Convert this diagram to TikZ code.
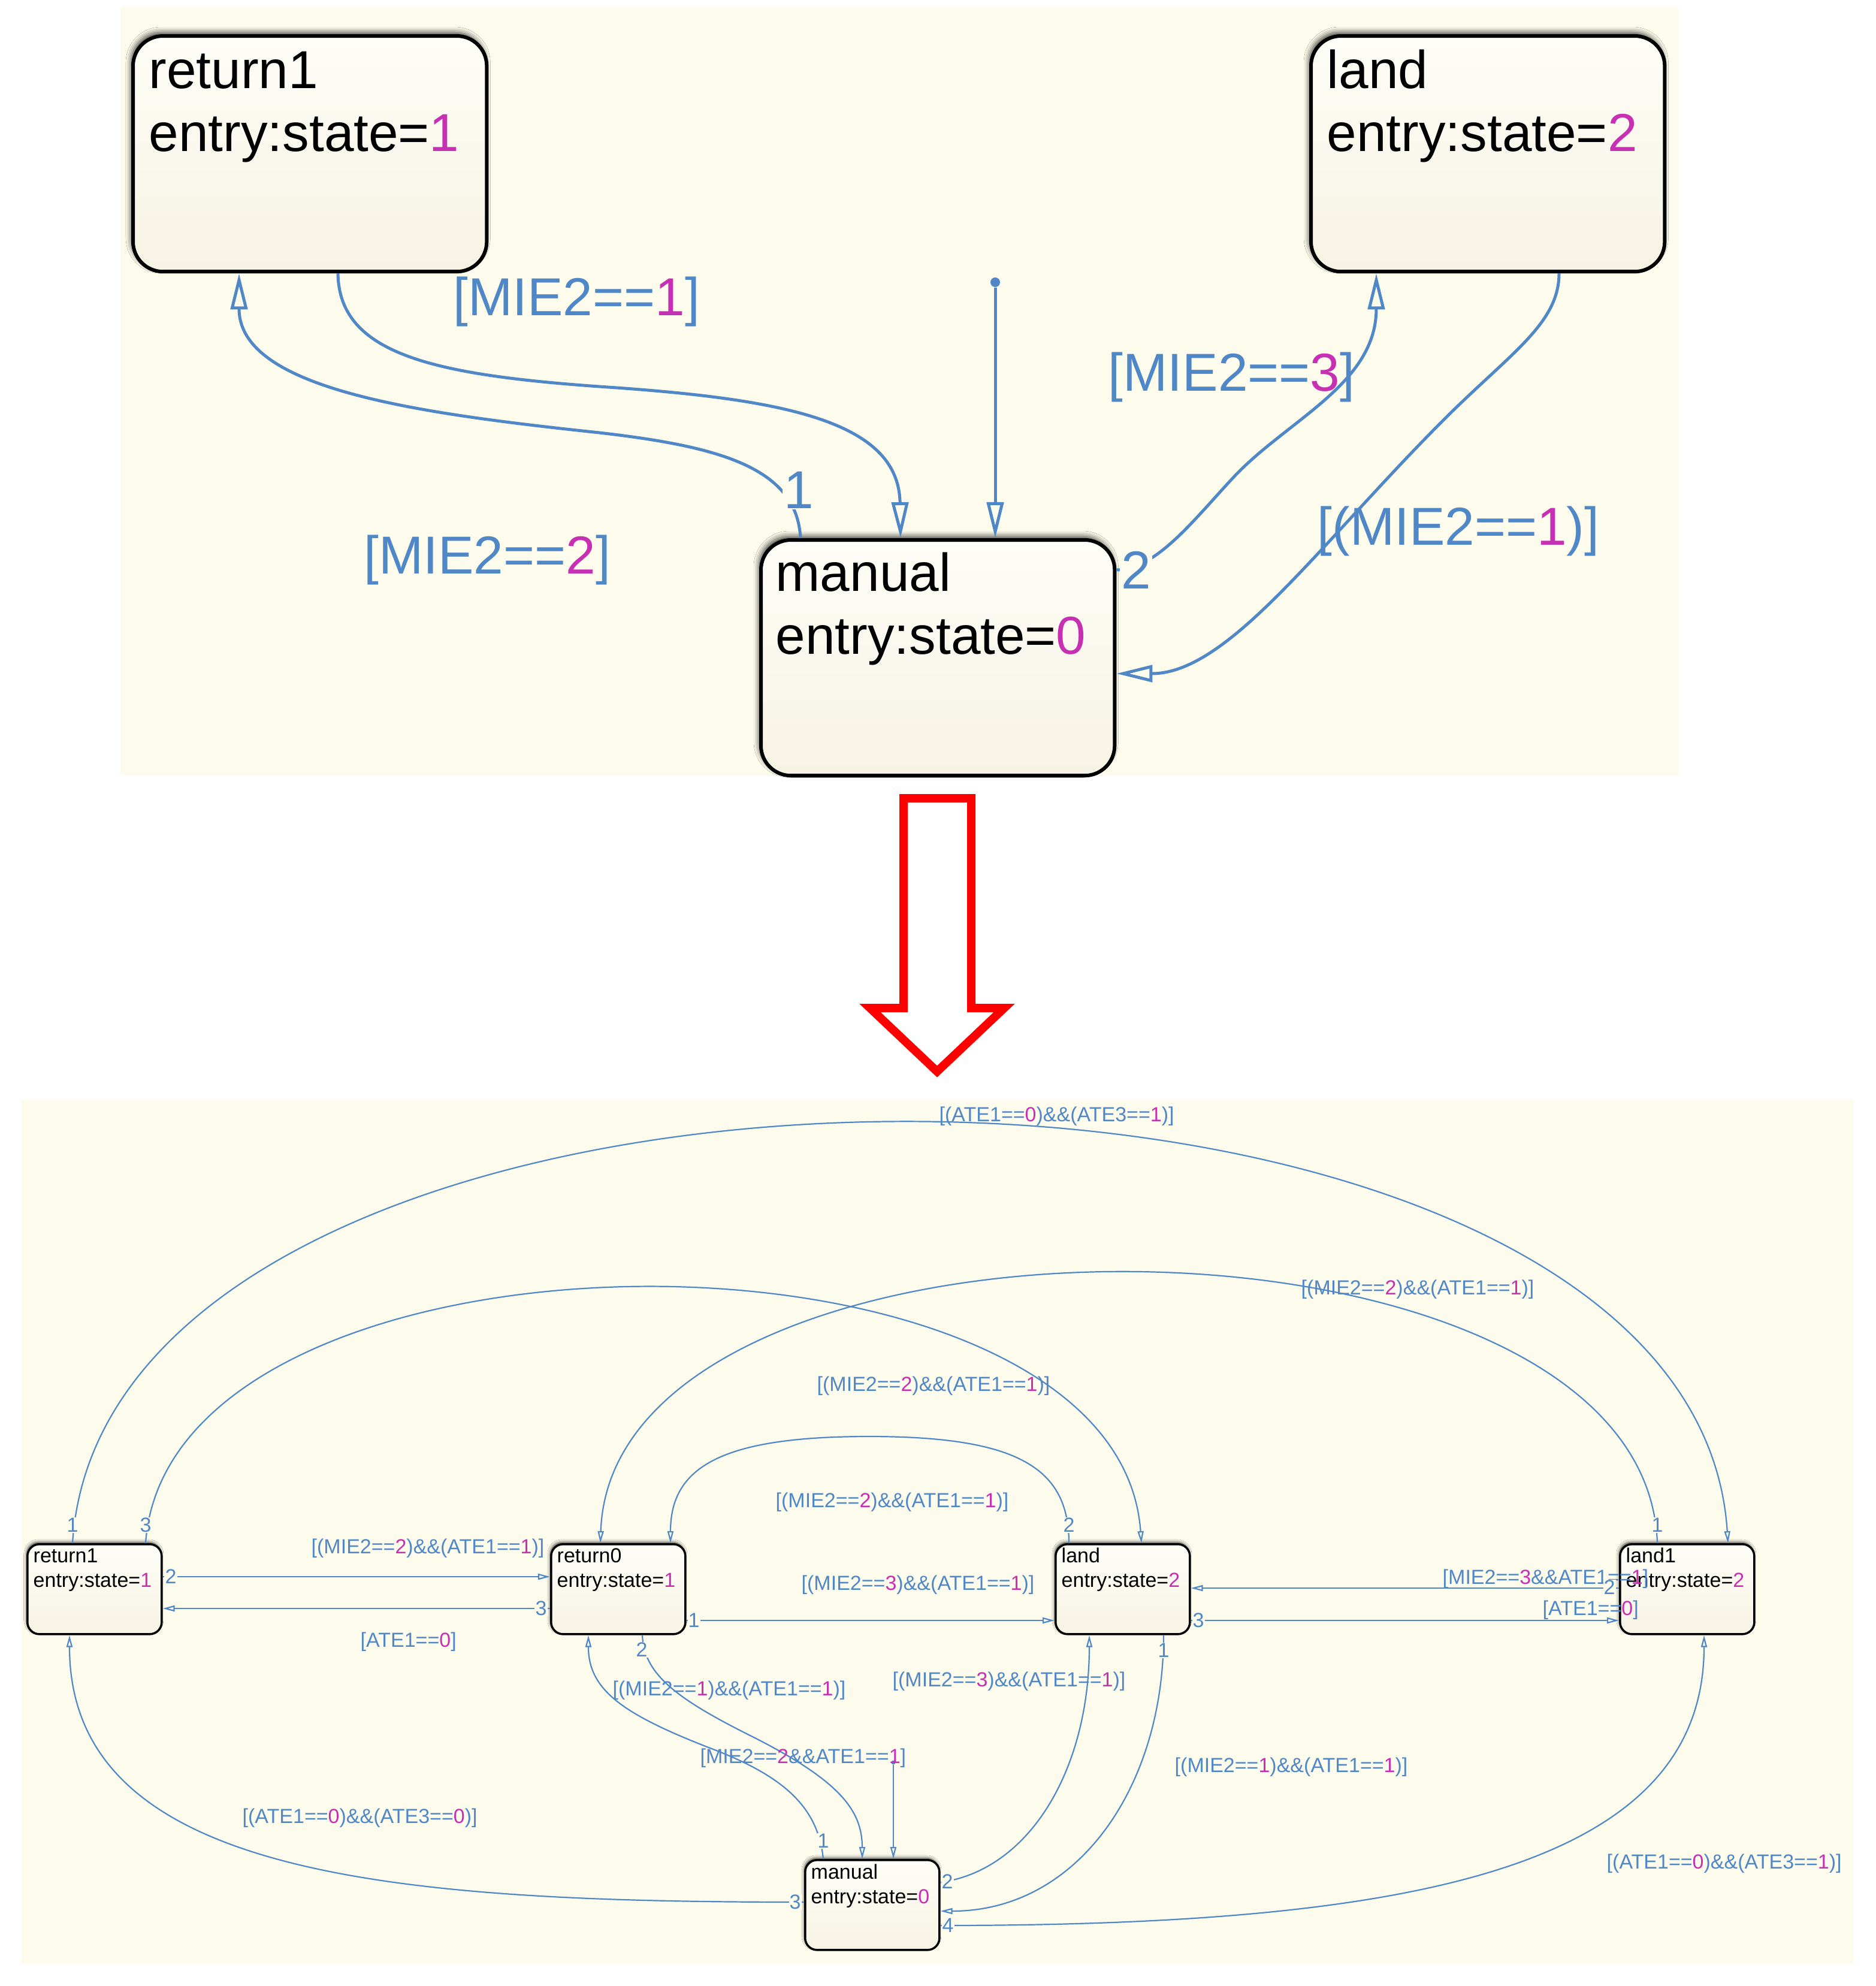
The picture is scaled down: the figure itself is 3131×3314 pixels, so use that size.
\documentclass[tikz,border=0pt]{standalone}
\usepackage{fontspec}
\setmainfont{Liberation Sans}
\usetikzlibrary{arrows.meta,calc,shadows.blur}
\definecolor{bgc}{RGB}{253,251,235}
\definecolor{boxtop}{RGB}{254,253,247}
\definecolor{boxbot}{RGB}{246,243,228}
\definecolor{lblue}{RGB}{80,135,198}
\definecolor{mag}{RGB}{199,48,179}
\newcommand\mg[1]{\textcolor{mag}{#1}}
\newcommand\tfnt{\fontsize{25.35pt}{29.6pt}\selectfont}
\newcommand\bfnt{\fontsize{9.67pt}{11.4pt}\selectfont}
\tikzset{
 tstate/.style={draw=black, line width=0.06cm, rounded corners=0.5cm, top color=boxtop, bottom color=boxbot,
   minimum width=5.9cm, minimum height=3.93cm, anchor=north west, inner sep=0,
   blur shadow={shadow xshift=-0.3mm, shadow yshift=0.6mm, shadow blur radius=0.9mm, shadow opacity=75}},
 bstate/.style={draw=black, line width=0.035cm, rounded corners=0.2cm, top color=boxtop, bottom color=boxbot,
   minimum width=2.24cm, minimum height=1.5cm, anchor=north west, inner sep=0,
   blur shadow={shadow xshift=-0.15mm, shadow yshift=0.35mm, shadow blur radius=0.45mm, shadow opacity=75}},
 ttext/.style={anchor=base west, align=left, inner sep=0, font=\tfnt},
 btext/.style={anchor=base west, align=left, inner sep=0, font=\bfnt},
 tlab/.style={anchor=base west, inner sep=0, font=\tfnt, text=lblue},
 blab/.style={anchor=base west, inner sep=0, font=\bfnt, text=lblue},
 tnum/.style={inner sep=0.5pt, font=\tfnt, text=lblue, fill=bgc},
 bnum/.style={inner sep=0.3pt, font=\bfnt, text=lblue, fill=bgc},
 tconn/.style={draw=lblue, line width=0.05cm, -{Triangle[open, length=0.6cm, width=0.28cm]}},
 bconn/.style={draw=lblue, line width=0.022cm, -{Triangle[open, length=0.2cm, width=0.1cm]}},
}
\begin{document}
\begin{tikzpicture}[x=0.01cm, y=-0.01cm]
\fill[white] (0,0) rectangle (3131,3314);
\useasboundingbox (0,0) rectangle (3131,3314);
% panels
\fill[bgc] (201,11) rectangle (2801,1294);
\fill[bgc] (36,1835) rectangle (3093,3277);

%================ TOP DIAGRAM =================
\node[tstate] (tr1) at (219,57) {};
\node[tstate] (tland) at (2185,57) {};
\node[tstate] (tman) at (1267,898) {};
% anchor = baseline of the last (second) line
\node[ttext] (tr1t) at ($(tr1.north west)+(29,195)$) {return1\\entry:state=\mg{1}};
\node[ttext] (tlandt) at ($(tland.north west)+(29,195)$) {land\\entry:state=\mg{2}};
\node[ttext] (tmant) at ($(tman.north west)+(27,193)$) {manual\\entry:state=\mg{0}};
\node[circle, fill=lblue, inner sep=0, minimum size=0.16cm] (tdot) at (1661,471) {};

\draw[tconn] ($(tr1.south west)+(345,0)$) .. controls (566,590) and (720,625) .. (1000,645)
   .. controls (1300,665) and (1500,700) .. ($(tman.north west)+(236,0)$);
\draw[tconn] ($(tman.north west)+(69,0)$) .. controls (1330,780) and (1200,745) .. (1000,722)
   .. controls (700,690) and (399,650) .. ($(tr1.south west)+(180,0)$);
\draw[tconn] (tdot) -- ($(tman.north west)+(394,0)$);
\draw[tconn] ($(tman.north east)+(0,53)$) .. controls (1930,950) and (1990,870) .. (2060,795)
   .. controls (2150,700) and (2297,640) .. ($(tland.south west)+(112,0)$);
\draw[tconn] ($(tland.south west)+(417,0)$) .. controls (2602,540) and (2520,590) .. (2410,700)
   .. controls (2200,910) and (2050,1124) .. ($(tman.north east)+(0,226)$);

\node[tlab] (tl1) at (756,526) {[MIE2==\mg{1}]};
\node[tlab] (tl2) at (607,957) {[MIE2==\mg{2}]};
\node[tlab] (tl3) at (1849,652) {[MIE2==\mg{3}]};
\node[tlab] (tl4) at (2198,909) {[(MIE2==\mg{1})]};
\node[tnum] (tn1) at (1333,818) {1};
\node[tnum] (tn2) at (1896,951) {2};

%================ RED ARROW =================
\draw[red, line width=0.14cm, miter limit=6] (1508,1332) -- (1621,1332) -- (1621,1682) -- (1676,1682)
   -- (1564,1788) -- (1452,1682) -- (1508,1682) -- cycle;

%================ BOTTOM DIAGRAM =================
\node[bstate] (br1) at (44,2575) {};
\node[bstate] (br0) at (918,2575) {};
\node[bstate] (bland) at (1760,2575) {};
\node[bstate] (bland1) at (2702,2575) {};
\node[bstate] (bman) at (1342,3102) {};
\node[btext] (br1t) at ($(br1.north west)+(11,73)$) {return1\\entry:state=\mg{1}};
\node[btext] (br0t) at ($(br0.north west)+(11,73)$) {return0\\entry:state=\mg{1}};
\node[btext] (blandt) at ($(bland.north west)+(11,73)$) {land\\entry:state=\mg{2}};
\node[btext] (bland1t) at ($(bland1.north west)+(11,73)$) {land1\\entry:state=\mg{2}};
\node[btext] (bmant) at ($(bman.north west)+(11,74)$) {manual\\entry:state=\mg{0}};
\node[circle, fill=lblue, inner sep=0, minimum size=0.07cm] (bdot) at (1491,2941) {};

% arcs over the top
\draw[bconn] ($(br1.north west)+(77,0)$) .. controls (181,1640) and (2824,1640) .. ($(bland1.north west)+(182,0)$);
\draw[bconn] ($(br1.north west)+(199,0)$) .. controls (283,2007) and (1865,2007) .. ($(bland.north west)+(145,0)$);
\draw[bconn] ($(bland1.north west)+(64,0)$) .. controls (2746,1974) and (1022,1974) .. ($(br0.north west)+(84,0)$);
\draw[bconn] ($(bland.north west)+(24,0)$) .. controls (1784,2450) and (1700,2397) .. (1450,2397)
   .. controls (1200,2397) and (1119,2450) .. ($(br0.north west)+(201,0)$);
% horizontal
\draw[bconn] ($(br1.north east)+(0,56)$) -- ($(br0.north west)+(0,56)$);
\draw[bconn] ($(br0.north west)+(0,109)$) -- ($(br1.north east)+(0,109)$);
\draw[bconn] ($(br0.north east)+(0,129)$) -- ($(bland.north west)+(0,129)$);
\draw[bconn] ($(bland.north east)+(0,129)$) -- ($(bland1.north west)+(0,129)$);
\draw[bconn] ($(bland1.north west)+(0,75)$) -- ($(bland.north east)+(0,75)$);
% to / from manual
\draw[bconn] ($(br0.south west)+(154,0)$) .. controls (1075,2790) and (1120,2830) .. (1250,2895)
   .. controls (1400,2970) and (1439,3020) .. ($(bman.north west)+(97,0)$);
\draw[bconn] ($(bman.north west)+(32,0)$) .. controls (1365,3010) and (1300,2960) .. (1180,2915)
   .. controls (1040,2860) and (982,2820) .. ($(br0.south west)+(64,0)$);
\draw[bconn] (bdot) -- ($(bman.north west)+(149,0)$);
\draw[bconn] ($(bman.north east)+(0,39)$) .. controls (1720,3120) and (1818,2950) .. ($(bland.south west)+(58,0)$);
\draw[bconn] ($(bland.south west)+(182,0)$) .. controls (1942,2980) and (1800,3189) .. ($(bman.north east)+(0,87)$);
\draw[bconn] ($(bman.north west)+(0,72)$) .. controls (650,3174) and (116,3130) .. ($(br1.south west)+(72,0)$);
\draw[bconn] ($(bman.north east)+(0,111)$) .. controls (2350,3213) and (2844,3120) .. ($(bland1.south west)+(142,0)$);

% guards
\node[blab] (bl1) at (519,2592) {[(MIE2==\mg{2})\&\&(ATE1==\mg{1})]};
\node[blab] (bl2) at (601,2748) {[ATE1==\mg{0}]};
\node[blab] (bl3) at (1337,2653) {[(MIE2==\mg{3})\&\&(ATE1==\mg{1})]};
\node[blab] (bl4) at (2574,2695) {[ATE1==\mg{0}]};
\node[blab] (bl5) at (2407,2643) {[MIE2==\mg{3}\&\&ATE1==\mg{1}]};
\node[blab] (bl6) at (1567,1871) {[(ATE1==\mg{0})\&\&(ATE3==\mg{1})]};
\node[blab] (bl7) at (2171,2160) {[(MIE2==\mg{2})\&\&(ATE1==\mg{1})]};
\node[blab] (bl8) at (1363,2321) {[(MIE2==\mg{2})\&\&(ATE1==\mg{1})]};
\node[blab] (bl9) at (1294,2515) {[(MIE2==\mg{2})\&\&(ATE1==\mg{1})]};
\node[blab] (bl10) at (1022,2829) {[(MIE2==\mg{1})\&\&(ATE1==\mg{1})]};
\node[blab] (bl11) at (1168,2942) {[MIE2==\mg{2}\&\&ATE1==\mg{1}]};
\node[blab] (bl12) at (1489,2814) {[(MIE2==\mg{3})\&\&(ATE1==\mg{1})]};
\node[blab] (bl13) at (1960,2957) {[(MIE2==\mg{1})\&\&(ATE1==\mg{1})]};
\node[blab] (bl14) at (404,3042) {[(ATE1==\mg{0})\&\&(ATE3==\mg{0})]};
\node[blab] (bl15) at (2681,3118) {[(ATE1==\mg{0})\&\&(ATE3==\mg{1})]};

% transition order numbers
\node[bnum] (bn1) at (121,2545) {1};
\node[bnum] (bn2) at (243,2545) {3};
\node[bnum] (bn3) at (285,2631) {2};
\node[bnum] (bn4) at (903,2684) {3};
\node[bnum] (bn5) at (1158,2704) {1};
\node[bnum] (bn6) at (1071,2753) {2};
\node[bnum] (bn7) at (1784,2545) {2};
\node[bnum] (bn8) at (2000,2704) {3};
\node[bnum] (bn9) at (1942,2754) {1};
\node[bnum] (bn10) at (2766,2545) {1};
\node[bnum] (bn11) at (2686,2649) {2};
\node[bnum] (bn12) at (1374,3072) {1};
\node[bnum] (bn13) at (1581,3140) {2};
\node[bnum] (bn14) at (1327,3174) {3};
\node[bnum] (bn15) at (1582,3213) {4};
\end{tikzpicture}
\end{document}
